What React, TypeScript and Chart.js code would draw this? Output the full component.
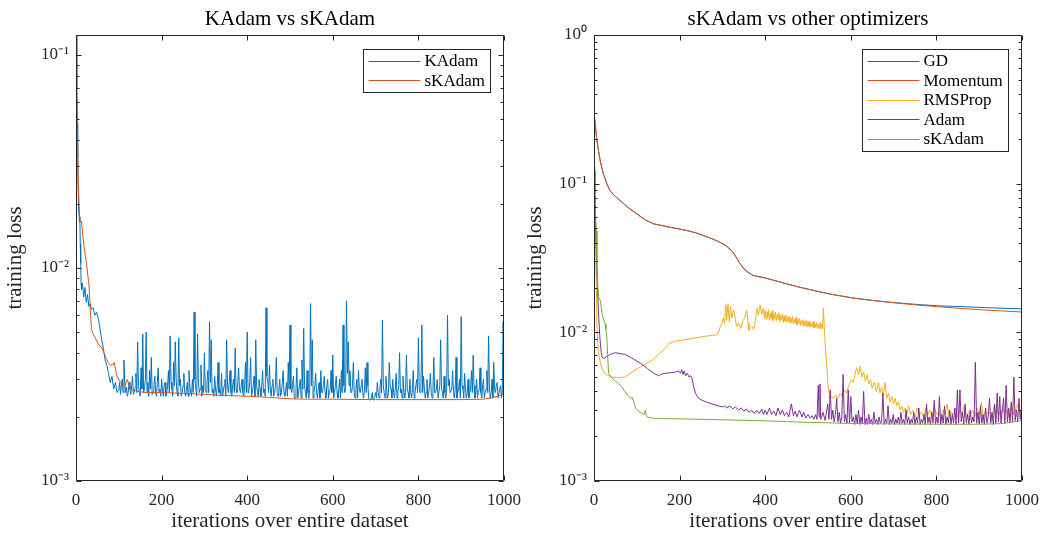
import React, { useEffect, useRef } from 'react';
import { Chart, registerables } from 'chart.js';

Chart.register(...registerables);

const FONT = '"Liberation Serif", "Times New Roman", serif';
const TEXT_COLOR = '#262626';
const AXIS_COLOR = '#262626';

const BLUE = '#0072BD';
const ORANGE = '#D95319';
const YELLOW = '#EDB120';
const PURPLE = '#7E2F8E';
const GREEN = '#77AC30';

const X_TICKS = [0, 200, 400, 600, 800, 1000];

// iteration indices (x categories) for an evenly sampled stretch
function iterRange(start: number, end: number, step: number): number[] {
  const out: number[] = [];
  for (let v = start; v <= end; v += step) out.push(v);
  return out;
}

// ---------- Left panel: KAdam vs sKAdam (loss values in units of 1e-3) ----------
const kadamHeadIter = [
  0, 1, 2, 3, 4, 5, 6, 8, 9, 10,
  11, 12, 13, 15, 18, 21, 24, 27, 30, 33,
  36, 40, 44, 48, 52, 56, 60, 64, 68, 72,
  76, 80, 84, 88, 92, 96,
];
const kadamHeadLoss = [
  120, 95, 70, 48, 33, 24, 19, 16.5, 17.4, 13,
  10.5, 8.5, 7.9, 8.5, 7.3, 8.1, 6.9, 7.5, 6.6, 6.8,
  6.4, 6.5, 6.0, 6.2, 5.8, 5.2, 4.6, 4.2, 3.7, 3.5,
  3.2, 2.9, 3.1, 2.7, 2.9, 2.6,
];
const kadamTailIter = iterRange(100, 1000, 2);
const kadamTailLoss = [
  2.7, 2.9, 2.55, 2.8, 3.0, 2.6, 3.7, 2.9, 2.6, 2.75, 2.5, 2.6, 2.9, 2.7, 2.55, 2.8, 3.1, 2.55, 2.6, 2.75,
  3.2, 2.6, 4.5, 2.8, 2.6, 2.5, 3.4, 2.7, 4.9, 2.6, 2.7, 3.0, 5.0, 2.6, 2.9, 2.5, 3.3, 2.7, 3.8, 2.55,
  2.6, 2.8, 3.1, 2.6, 2.5, 2.9, 3.4, 2.6, 2.7, 2.5, 3.0, 2.7, 2.5, 2.8, 2.9, 2.5, 2.6, 2.8, 3.3, 2.6,
  4.8, 2.9, 2.7, 2.5, 3.6, 2.8, 4.5, 3.0, 2.6, 2.5, 4.7, 2.8, 3.0, 2.5, 2.6, 2.8, 3.2, 2.6, 2.5, 2.7,
  2.9, 2.5, 3.3, 2.8, 2.6, 2.5, 3.0, 2.6, 6.2, 3.0, 2.7, 2.5, 4.9, 2.9, 2.6, 2.7, 3.5, 2.5, 2.8, 2.6,
  4.0, 2.7, 2.6, 2.9, 3.3, 2.6, 5.6, 2.9, 4.6, 2.6, 2.7, 2.5, 3.1, 2.7, 2.5, 2.8, 3.6, 2.6, 2.7, 2.5,
  3.2, 2.5, 2.6, 2.8, 3.0, 2.5, 4.6, 2.8, 2.6, 2.9, 3.3, 2.6, 2.5, 2.8, 3.0, 2.6, 4.2, 2.7, 2.6, 2.9,
  3.4, 2.7, 2.6, 2.8, 3.0, 2.6, 2.5, 2.8, 3.6, 2.6, 5.0, 2.6, 2.7, 2.9, 3.8, 2.5, 2.6, 2.8, 3.1, 2.5,
  4.6, 2.8, 2.6, 2.5, 3.0, 2.7, 2.5, 2.8, 3.3, 2.6, 2.7, 2.5, 6.5, 3.1, 2.9, 2.6, 3.5, 2.7, 2.5, 2.8,
  3.0, 2.5, 2.6, 2.8, 3.8, 2.6, 2.5, 2.7, 3.0, 2.5, 2.6, 2.9, 3.3, 2.6, 2.5, 2.7, 2.9, 2.5, 3.6, 2.7,
  5.4, 2.7, 2.6, 2.8, 3.1, 2.45, 2.45, 2.7, 3.4, 2.45, 2.6, 2.8, 3.0, 2.45, 3.7, 2.7, 5.2, 2.8, 2.6, 2.45,
  3.3, 2.6, 2.45, 2.7, 6.8, 2.8, 4.6, 2.45, 2.6, 2.8, 3.2, 2.6, 2.45, 2.7, 2.9, 2.45, 3.3, 2.6, 2.6, 2.8,
  3.1, 2.6, 2.45, 2.8, 3.0, 2.45, 2.6, 2.7, 3.3, 2.6, 3.9, 2.45, 2.6, 2.8, 3.1, 2.6, 2.45, 2.7, 3.0, 2.45,
  3.3, 2.6, 5.4, 2.8, 2.6, 2.7, 7.0, 3.2, 4.5, 2.8, 3.3, 2.6, 2.6, 2.8, 3.6, 2.6, 2.45, 2.7, 3.0, 2.45,
  3.3, 2.7, 2.6, 2.8, 3.0, 2.6, 2.45, 2.7, 3.4, 2.6, 3.6, 2.8, 2.45, 2.4, 2.4, 2.45, 2.6, 2.4, 2.45, 2.5,
  2.6, 2.45, 2.9, 2.6, 2.45, 2.7, 3.0, 2.6, 5.7, 2.8, 2.6, 2.45, 3.1, 2.7, 2.45, 2.6, 3.6, 2.8, 2.7, 2.45,
  3.0, 2.6, 2.45, 2.7, 3.2, 2.45, 2.6, 2.8, 4.0, 2.6, 2.7, 2.45, 3.1, 2.7, 2.45, 2.6, 3.9, 2.7, 2.6, 2.45,
  3.0, 2.6, 2.45, 2.7, 3.3, 2.45, 2.6, 2.8, 3.0, 2.6, 4.7, 2.7, 2.6, 2.8, 5.4, 2.6, 3.1, 2.7, 2.45, 2.6,
  3.0, 2.45, 2.6, 2.8, 3.2, 2.6, 2.45, 2.7, 3.8, 2.6, 2.6, 2.7, 3.0, 2.45, 2.45, 2.8, 4.6, 2.7, 2.6, 2.45,
  3.1, 2.6, 2.45, 2.7, 6.0, 2.8, 3.0, 2.6, 2.6, 2.7, 3.3, 2.6, 2.45, 2.7, 3.8, 2.45, 2.6, 2.7, 3.0, 2.45,
  5.9, 2.8, 2.7, 2.45, 3.2, 2.7, 2.45, 2.6, 3.0, 2.45, 2.6, 2.7, 3.3, 2.6, 3.9, 2.8, 2.45, 2.6, 3.0, 2.45,
  2.6, 2.7, 3.4, 2.6, 2.45, 2.8, 3.0, 2.45, 2.6, 2.7, 3.3, 2.6, 4.8, 2.7, 2.45, 2.6, 3.0, 2.45, 3.6, 2.7,
  2.6, 2.8, 2.9, 2.45, 2.45, 2.7, 2.8, 2.45, 2.6, 5.6, 2.7,
];

const skadamLeftIter = [
  0, 2, 4, 6, 9, 11, 13, 16, 19, 22,
  25, 28, 30, 32, 34, 36, 38, 45, 52, 61,
  65, 70, 75, 80, 85, 89, 93, 96, 104, 112,
  116, 120, 124, 128, 140, 160, 200, 250, 300, 350,
  400, 450, 500, 550, 600, 700, 800, 900, 950, 970,
  985, 1000,
];
const skadamLeftLoss = [
  125, 70, 35, 22, 16.8, 16.4, 16.6, 14, 12.6, 11.3,
  10.3, 9.1, 8.5, 7.3, 6.0, 5.2, 5.0, 4.7, 4.4, 4.2,
  4.0, 3.8, 3.6, 3.5, 3.5, 3.6, 3.3, 3.1, 2.9, 2.8,
  2.85, 3.0, 2.8, 2.7, 2.65, 2.6, 2.6, 2.58, 2.55, 2.52,
  2.5, 2.47, 2.43, 2.42, 2.42, 2.41, 2.41, 2.41, 2.42, 2.45,
  2.5, 2.58,
];

// ---------- Right panel: sKAdam vs other optimizers (units of 1e-3) ----------
const gdIter = [
  0, 3, 6, 10, 15, 22, 30, 37, 50, 61,
  80, 100, 120, 139, 160, 178, 200, 217, 240, 255,
  275, 294, 310, 325, 335, 341, 349, 360, 372, 400,
  450, 481, 528, 560, 606, 650, 684, 720, 762, 800,
  839, 871, 917, 960, 1000,
];
const gdLoss = [
  294, 250, 205, 170, 140, 116, 100, 90, 82, 77,
  69, 62.6, 57, 53.7, 52.2, 50.9, 49.5, 48.4, 46.5, 44.8,
  42.7, 40.4, 38.0, 34.6, 31.0, 29.0, 27.0, 25.3, 24.1, 23.2,
  21.2, 20.1, 18.7, 17.9, 17.0, 16.4, 16.0, 15.7, 15.35, 15.1,
  14.95, 14.85, 14.65, 14.5, 14.4,
];
const momentumLoss = [
  294, 250, 205, 170, 140, 116, 100, 90, 82, 77,
  69, 62.6, 57, 53.7, 52.2, 50.9, 49.5, 48.4, 46.5, 44.8,
  42.7, 40.4, 38.0, 34.6, 31.0, 29.0, 27.0, 25.3, 24.1, 23.2,
  21.2, 20.1, 18.7, 17.9, 17.0, 16.4, 16.0, 15.6, 15.2, 14.9,
  14.6, 14.4, 14.1, 13.9, 13.7,
];

const rmsHeadIter = [
  0, 2, 4, 7, 10, 15, 20, 26, 35, 42,
  55, 73, 85, 97, 115, 136, 155, 170, 175, 188,
  210, 229, 250, 270, 283, 290, 295, 298, 302, 305,
  308, 310, 313, 316, 319, 322, 326, 329, 333, 338,
  343, 348, 352, 357, 360, 362, 366, 369, 373, 377,
  381, 384, 388, 392,
];
const rmsHeadLoss = [
  130, 80, 35, 10.5, 7.5, 6.2, 5.6, 5.3, 5.1, 5.0,
  4.95, 5.0, 5.3, 5.6, 6.0, 6.5, 7.3, 8.0, 8.4, 8.7,
  8.9, 9.1, 9.3, 9.5, 9.6, 9.8, 10.9, 11.4, 12.5, 11.5,
  15.3, 12.0, 15.6, 11.8, 15.0, 12.5, 14.1, 13.0, 10.9, 11.5,
  10.6, 12.0, 12.5, 14.1, 11.5, 10.3, 10.8, 11.0, 10.5, 12.0,
  14.5, 13.0, 15.2, 13.2,
];
const rmsMidIter = iterRange(396, 536, 2);
const rmsMidLoss = [
  14.6, 12.4, 14.0, 12.2, 13.8, 12.6, 14.2, 12.1, 13.5, 12.4,
  13.9, 12.0, 13.4, 12.3, 13.7, 11.9, 13.2, 12.2, 13.5, 11.8,
  13.0, 12.1, 13.3, 11.7, 12.9, 11.9, 13.1, 11.6, 12.7, 11.8,
  12.9, 11.5, 12.5, 11.7, 12.8, 11.4, 12.3, 11.5, 12.6, 11.2,
  12.2, 11.4, 12.4, 11.1, 12.0, 11.3, 12.2, 11.0, 11.9, 11.1,
  12.1, 10.9, 11.8, 11.0, 11.9, 10.8, 11.6, 10.9, 11.8, 10.7,
  11.5, 10.8, 11.7, 10.6, 11.4, 10.7, 11.6, 10.5, 11.3, 10.6,
  14.5,
];
const rmsTailIter = [
  538, 540, 543, 547, 551, 555, 560, 565, 570, 575,
  580, 585, 590, 595, 598, 602, 606, 610, 614, 618,
  622, 626, 630, 634, 638, 642, 646, 650, 655, 660,
  665, 668, 672, 676, 680, 684, 688, 692, 696, 700,
  704, 707, 711, 715, 719, 723, 727, 731, 735, 740,
  745, 750, 755, 760, 765, 770, 775, 780, 785, 790,
  795, 800, 805, 810, 815, 820, 825, 830, 835, 840,
  845, 850, 855, 860, 865, 870, 875, 880, 885, 890,
  895, 900, 905, 910, 915, 920, 925, 930, 935, 940,
  945, 950, 955, 960, 965, 970, 975, 980, 985, 990,
  995, 1000,
];
const rmsTailLoss = [
  11.0, 8.4, 6.5, 4.3, 3.6, 3.7, 3.6, 3.8, 3.6, 3.9,
  3.7, 4.1, 3.9, 4.4, 4.6, 4.8, 4.6, 5.3, 5.8, 5.2,
  5.9, 5.0, 5.4, 4.7, 5.2, 4.5, 4.8, 4.2, 4.6, 4.0,
  4.6, 3.9, 4.3, 3.7, 4.6, 3.6, 3.9, 3.4, 3.7, 3.3,
  3.6, 3.2, 3.4, 3.0, 3.2, 2.9, 3.1, 2.8, 3.2, 2.8,
  3.0, 2.7, 3.1, 2.8, 2.9, 2.7, 3.1, 2.8, 3.0, 2.7,
  3.2, 2.8, 2.9, 2.7, 3.0, 2.8, 3.3, 2.7, 2.9, 2.8,
  3.1, 2.7, 3.0, 2.8, 3.2, 2.7, 2.9, 2.8, 3.0, 2.7,
  3.1, 2.8, 3.4, 2.7, 3.0, 2.8, 2.9, 2.7, 3.2, 2.8,
  3.0, 2.7, 3.1, 2.8, 3.0, 2.7, 3.3, 2.8, 3.0, 3.3,
  2.8, 3.0,
];

const adamHeadIter = [
  0, 2, 4, 6, 8, 11, 14, 17, 19, 23,
  26, 30, 38, 50, 60, 73, 85, 100, 112, 125,
  140, 151, 155, 165, 180, 190, 198, 202, 205, 208,
  211, 214, 218, 222, 226, 229, 233, 237, 244, 252,
  262, 275, 291, 300, 305, 310, 318, 325, 330, 338,
  344, 350, 356, 362, 368, 374, 380, 386, 392, 396,
  400, 404, 410, 415, 420, 425, 430, 435, 440, 445,
  450, 455, 461, 466, 470, 474, 480, 486, 490, 495,
  500, 505, 510, 514, 518, 521, 524, 526, 528, 530,
  535,
];
const adamHeadLoss = [
  122, 90, 50, 30, 20, 12.7, 9.0, 7.3, 6.8, 6.7,
  6.75, 6.9, 7.1, 7.3, 7.2, 7.1, 6.8, 6.4, 6.1, 5.7,
  5.3, 5.1, 5.2, 5.3, 5.35, 5.4, 5.5, 5.3, 5.6, 5.2,
  5.5, 5.1, 5.3, 5.0, 5.1, 4.9, 4.3, 3.9, 3.6, 3.5,
  3.4, 3.3, 3.2, 3.15, 3.2, 3.1, 3.2, 3.05, 3.15, 3.0,
  3.1, 2.95, 3.05, 2.9, 3.0, 2.85, 3.0, 2.85, 3.05, 2.8,
  3.0, 2.8, 3.1, 2.8, 2.95, 2.75, 3.1, 2.8, 3.0, 2.75,
  2.9, 2.7, 3.3, 2.75, 2.95, 2.7, 3.0, 2.7, 2.9, 2.65,
  2.8, 2.65, 2.75, 2.6, 2.8, 2.6, 4.4, 2.7, 4.5, 2.6,
  2.9,
];
const adamTailIter = iterRange(540, 999, 3);
const adamTailLoss = [
  2.55, 2.9, 3.3, 2.6, 4.1, 2.6, 3.0, 2.5, 2.8, 3.6,
  2.5, 2.9, 2.45, 2.7, 5.2, 2.5, 2.8, 2.45, 4.1, 2.45,
  3.7, 2.5, 2.7, 2.4, 2.8, 2.45, 3.0, 2.4, 2.7, 2.45,
  4.0, 2.4, 2.65, 2.4, 2.8, 2.45, 2.6, 2.4, 2.9, 2.45,
  2.6, 2.4, 2.7, 2.45, 2.5, 3.9, 2.4, 2.6, 2.45, 3.2,
  2.4, 2.6, 2.45, 2.8, 2.4, 2.6, 2.45, 2.7, 2.4, 2.9,
  2.45, 2.6, 2.4, 3.0, 2.45, 2.7, 2.4, 2.6, 2.45, 2.9,
  2.4, 2.7, 2.45, 3.1, 2.4, 2.6, 2.45, 2.8, 2.4, 3.3,
  2.45, 2.7, 2.4, 2.9, 2.45, 3.5, 2.4, 2.7, 2.45, 3.7,
  2.4, 2.8, 2.45, 3.2, 2.4, 2.7, 2.45, 3.0, 2.4, 2.8,
  2.45, 3.1, 2.4, 4.1, 2.45, 4.1, 2.5, 2.9, 2.4, 3.3,
  2.45, 2.8, 2.4, 3.0, 2.45, 2.7, 2.5, 6.3, 2.45, 2.9,
  2.4, 3.2, 2.45, 2.8, 2.4, 3.1, 2.45, 2.7, 3.6, 2.45,
  2.9, 2.4, 3.3, 2.45, 3.9, 2.5, 3.7, 2.45, 3.0, 3.6,
  2.45, 4.4, 2.5, 3.1, 2.45, 3.4, 2.5, 5.0, 2.55, 3.0,
  2.5, 3.6, 2.6, 3.1,
];

const skadamRightIter = [
  0, 2, 5, 7, 9, 11, 13, 15, 17, 19,
  22, 26, 28, 30, 32, 34, 40, 50, 58, 65,
  72, 81, 86, 89, 93, 97, 104, 112, 117, 120,
  122, 124, 135, 151, 200, 250, 300, 350, 400, 450,
  500, 550, 600, 700, 800, 900, 950, 975, 1000,
];
const skadamRightLoss = [
  118, 80, 48, 29, 20, 17.3, 16.5, 16.4, 14.5, 13.3,
  12.3, 11.4, 10.5, 9.3, 7.0, 5.3, 5.0, 4.7, 4.5, 4.3,
  4.0, 3.7, 3.6, 3.65, 3.4, 3.1, 2.95, 2.85, 2.8, 3.0,
  2.75, 2.7, 2.65, 2.63, 2.62, 2.6, 2.58, 2.56, 2.54, 2.51,
  2.48, 2.46, 2.44, 2.42, 2.41, 2.41, 2.43, 2.48, 2.56,
];

// values are stored in units of 1e-3
function toPoints(iters: number[], milli: number[]) {
  const n = Math.min(iters.length, milli.length);
  const out: { x: number; y: number }[] = [];
  for (let i = 0; i < n; i++) out.push({ x: iters[i], y: milli[i] / 1000 });
  return out;
}

const SUP: Record<string, string> = {
  '-': '\u207B', '0': '\u2070', '1': '\u00B9', '2': '\u00B2', '3': '\u00B3',
  '4': '\u2074', '5': '\u2075', '6': '\u2076', '7': '\u2077', '8': '\u2078', '9': '\u2079',
};

function logLabel(value: number | string): string {
  const v = Number(value);
  const l = Math.log10(v);
  const r = Math.round(l);
  if (Math.abs(l - r) > 1e-6) return '';
  return '10' + String(r).split('').map((c) => SUP[c] || c).join('');
}

const matlabAxes = {
  id: 'matlabAxes',
  afterDraw(chart: any) {
    const { ctx, chartArea: a } = chart;
    const xs = chart.scales.x;
    const ys = chart.scales.y;
    const L = Math.round(a.left) + 0.5;
    const R = Math.round(a.right) - 0.5;
    const T = Math.round(a.top) + 0.5;
    const B = Math.round(a.bottom) - 0.5;
    ctx.save();
    ctx.strokeStyle = AXIS_COLOR;
    ctx.lineWidth = 1;
    ctx.beginPath();
    ctx.rect(L, T, R - L, B - T);
    X_TICKS.forEach((v) => {
      const px = Math.round(xs.getPixelForValue(v)) + 0.5;
      ctx.moveTo(px, B);
      ctx.lineTo(px, B - 5);
      ctx.moveTo(px, T);
      ctx.lineTo(px, T + 5);
    });
    const e0 = Math.floor(Math.log10(ys.min) + 1e-9);
    const e1 = Math.ceil(Math.log10(ys.max) - 1e-9);
    for (let e = e0; e <= e1; e++) {
      for (let m = 1; m <= 9; m++) {
        const v = m * Math.pow(10, e);
        if (v < ys.min * 0.9999 || v > ys.max * 1.0001) continue;
        const py = Math.round(ys.getPixelForValue(v)) + 0.5;
        const len = m === 1 ? 5 : 3;
        ctx.moveTo(L, py);
        ctx.lineTo(L + len, py);
        ctx.moveTo(R, py);
        ctx.lineTo(R - len, py);
      }
    }
    ctx.stroke();
    ctx.restore();
  },
};

const matlabLegend = {
  id: 'matlabLegend',
  afterDraw(chart: any) {
    const { ctx, chartArea: a } = chart;
    const ds = chart.data.datasets;
    ctx.save();
    ctx.font = `17px ${FONT}`;
    const tw = Math.max(...ds.map((d: any) => ctx.measureText(d.label).width));
    const w = Math.round(61 + tw + 6);
    const h = Math.round(11.5 + (ds.length - 1) * 19.4 + 12.5);
    const x0 = Math.round(a.right - 14 - w) + 0.5;
    const y0 = Math.round(a.top + 14) + 0.5;
    ctx.fillStyle = '#ffffff';
    ctx.fillRect(x0, y0, w, h);
    ctx.strokeStyle = AXIS_COLOR;
    ctx.lineWidth = 1;
    ctx.strokeRect(x0, y0, w, h);
    ds.forEach((d: any, i: number) => {
      const cy = y0 + 11.5 + i * 19.4;
      const ly = Math.round(cy) + 0.5;
      ctx.strokeStyle = d.borderColor;
      ctx.lineWidth = 1;
      ctx.beginPath();
      ctx.moveTo(x0 + 5, ly);
      ctx.lineTo(x0 + 57, ly);
      ctx.stroke();
      ctx.fillStyle = '#000000';
      ctx.textAlign = 'left';
      ctx.textBaseline = 'middle';
      ctx.fillText(d.label, x0 + 61, cy + 1);
    });
    ctx.restore();
  },
};

function lineDataset(label: string, color: string, data: { x: number; y: number }[], order: number) {
  return {
    label,
    data,
    borderColor: color,
    backgroundColor: color,
    borderWidth: 1,
    pointRadius: 0,
    pointHoverRadius: 0,
    tension: 0,
    fill: false,
    order,
  };
}

function makeConfig(opts: {
  title: string;
  yMax: number;
  yWidth: number;
  rightPad: number;
  datasets: any[];
}) {
  return {
    type: 'line' as const,
    data: { datasets: opts.datasets },
    plugins: [matlabAxes, matlabLegend],
    options: {
      responsive: false,
      animation: false as const,
      devicePixelRatio: 1,
      parsing: false as const,
      normalized: true,
      events: [],
      layout: { padding: { left: 0, right: opts.rightPad, top: 0, bottom: 0 } },
      plugins: {
        legend: { display: false },
        tooltip: { enabled: false },
        title: {
          display: true,
          text: opts.title,
          color: '#000000',
          fullSize: false,
          font: { family: FONT, size: 21, weight: 'normal' as const, lineHeight: 1.2 },
          padding: { top: 7, bottom: 2.8 },
        },
      },
      scales: {
        x: {
          type: 'linear' as const,
          min: 0,
          max: 1000,
          grid: { display: false, drawTicks: false },
          border: { display: false },
          ticks: {
            stepSize: 200,
            autoSkip: false,
            maxRotation: 0,
            padding: 9,
            color: TEXT_COLOR,
            font: { family: FONT, size: 17 },
            callback: (v: any) => String(v),
          },
          title: {
            display: true,
            text: 'iterations over entire dataset',
            color: TEXT_COLOR,
            font: { family: FONT, size: 21, lineHeight: 1.2 },
            padding: { top: 0, bottom: 0 },
          },
          afterFit: (s: any) => {
            s.height = 53;
          },
        },
        y: {
          type: 'logarithmic' as const,
          min: 1e-3,
          max: opts.yMax,
          grid: { display: false, drawTicks: false },
          border: { display: false },
          ticks: {
            autoSkip: false,
            padding: 7,
            color: TEXT_COLOR,
            font: { family: FONT, size: 17 },
            callback: (v: any) => logLabel(v),
          },
          title: {
            display: true,
            text: 'training loss',
            color: TEXT_COLOR,
            font: { family: FONT, size: 21, lineHeight: 1.2 },
            padding: { top: 3, bottom: 0 },
          },
          afterFit: (s: any) => {
            s.width = opts.yWidth;
          },
        },
      },
    },
  };
}

function ChartCanvas({ config, left, width, height }: { config: () => any; left: number; width: number; height: number }) {
  const ref = useRef<HTMLCanvasElement | null>(null);
  useEffect(() => {
    if (!ref.current) return;
    const chart = new Chart(ref.current, config());
    return () => chart.destroy();
  }, []);
  return (
    <canvas
      ref={ref}
      width={width}
      height={height}
      style={{ position: 'absolute', left, top: 0, width, height, display: 'block' }}
    />
  );
}

const leftConfig = () =>
  makeConfig({
    title: 'KAdam vs sKAdam',
    yMax: 0.124,
    yWidth: 76,
    rightPad: 36,
    datasets: [
      lineDataset(
        'KAdam',
        BLUE,
        toPoints(kadamHeadIter, kadamHeadLoss).concat(toPoints(kadamTailIter, kadamTailLoss)),
        2
      ),
      lineDataset('sKAdam', ORANGE, toPoints(skadamLeftIter, skadamLeftLoss), 1),
    ],
  });

const rightConfig = () =>
  makeConfig({
    title: 'sKAdam vs other optimizers',
    yMax: 1,
    yWidth: 74,
    rightPad: 40,
    datasets: [
      lineDataset('GD', BLUE, toPoints(gdIter, gdLoss), 5),
      lineDataset('Momentum', ORANGE, toPoints(gdIter, momentumLoss), 4),
      lineDataset(
        'RMSProp',
        YELLOW,
        toPoints(rmsHeadIter, rmsHeadLoss)
          .concat(toPoints(rmsMidIter, rmsMidLoss))
          .concat(toPoints(rmsTailIter, rmsTailLoss)),
        3
      ),
      lineDataset(
        'Adam',
        PURPLE,
        toPoints(adamHeadIter, adamHeadLoss).concat(toPoints(adamTailIter, adamTailLoss)),
        2
      ),
      lineDataset('sKAdam', GREEN, toPoints(skadamRightIter, skadamRightLoss), 1),
    ],
  });

export default function App() {
  useEffect(() => {
    document.body.style.margin = '0';
    document.body.style.background = '#ffffff';
  }, []);
  return (
    <div style={{ position: 'absolute', left: 0, top: 0, width: 1042, height: 534, background: '#ffffff', overflow: 'hidden' }}>
      <ChartCanvas config={leftConfig} left={0} width={540} height={534} />
      <ChartCanvas config={rightConfig} left={520} width={542} height={534} />
    </div>
  );
}
